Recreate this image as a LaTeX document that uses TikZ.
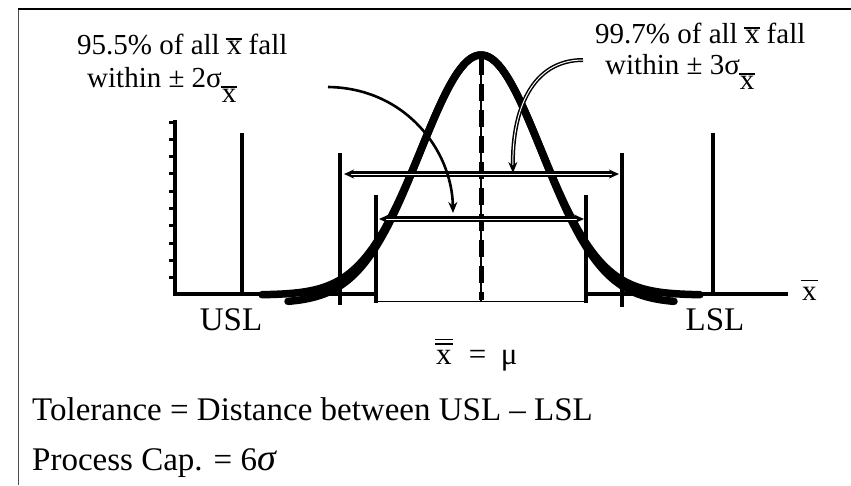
\documentclass[tikz,border=0pt]{standalone}
\usepackage{fontspec}
\setmainfont{Liberation Serif}
\usetikzlibrary{arrows.meta}

% x con barra (la altura de la barra es opcional)
\newcommand{\barx}[1][0.5em]{\leavevmode\rlap{\hspace{-0.03em}\rule[#1]{0.56em}{0.045em}}x}
\newcommand{\dbarx}{\leavevmode\rlap{\hspace{-0.03em}\rule[0.62em]{0.56em}{0.045em}}\rlap{\hspace{-0.03em}\rule[0.76em]{0.56em}{0.045em}}x}

\begin{document}
\begin{tikzpicture}[x=1pt, y=-1pt,
    etiqueta/.style={font=\fontsize{29}{32}\selectfont, inner sep=0pt, anchor=base west},
    limite/.style={font=\fontsize{33}{38}\selectfont, inner sep=0pt, anchor=base},
    texto/.style={font=\fontsize{33}{40}\selectfont, inner sep=0pt, anchor=base west},
    eje/.style={line width=3.8pt},
    sigma/.style={line width=3.5pt},
    campana/.style={line width=7.5pt, line cap=round},
    cota/.style={double, double distance=1pt, line width=2.1pt,
                 {Stealth[length=10pt,width=9pt]}-{Stealth[length=10pt,width=9pt]}},
    flecha/.style={line width=2.6pt, -{Stealth[length=11pt,width=9pt]}},
    flechadoble/.style={double, double distance=1pt, line width=1.5pt, -{Stealth[length=11pt,width=9pt]}}
  ]
  \useasboundingbox (0,0) rectangle (851,485);

  % marco
  \draw[line width=1pt, black!70] (18,485) -- (18,9);
  \draw[line width=1.2pt] (18,9) -- (851,9);

  % ejes
  \draw[eje] (175,120) -- (175,294) -- (376,294);
  \draw[eje] (586,294) -- (788,294);
  \draw[line width=1pt] (376,301) -- (586,301);
  \foreach \k in {0,...,9} {
    \draw[line width=3pt] (175,{122+17.3*\k}) -- ++(-6,0);
  }

  % limites de especificacion
  \draw[sigma] (242,133) -- (242,294);
  \draw[sigma] (713,133) -- (713,294);

  % lineas de 2 y 3 sigma
  \draw[sigma] (340,153) -- (340,305);
  \draw[sigma] (376,195) -- (376,303);
  \draw[sigma] (586,195) -- (586,303);
  \draw[sigma] (622,153) -- (622,307);

  % media
  \draw[line width=1.5pt] (481,55) -- (481,301);
  \draw[line width=5pt, dash pattern=on 17pt off 9pt] (481,58) -- (481,300);

  % campana
  \draw[campana] plot[domain=262:700, samples=120, smooth] (\x, {295-240*exp(-0.5*((\x-481)/60)^2)});
  \draw[campana] plot[domain=288:674, samples=120, smooth] (\x, {303-248*exp(-0.5*((\x-481)/61)^2)});

  % cotas
  \coordinate (a3l) at (344,174);
  \coordinate (a3r) at (619,174);
  \coordinate (a2l) at (379,219);
  \coordinate (a2r) at (584,219);
  \draw[cota] (a3l) -- (a3r);
  \draw[cota] (a2l) -- (a2r);

  % textos
  \node[etiqueta] (t95a) at (77,54) {95.5\% of all \barx{} fall};
  \node[etiqueta] (t95b) at (87,87) {within ± 2σ\raisebox{-15pt}{\barx}};
  \node[etiqueta] (t99a) at (595,43) {99.7\% of all \barx{} fall};
  \node[etiqueta] (t99b) at (605,74) {within ± 3σ\raisebox{-15pt}{\barx}};

  \coordinate (p95) at (328,87);
  \coordinate (q95) at (453,213);
  \draw[flecha] (p95) .. controls (405,88) and (452,150) .. (q95);
  \coordinate (p99) at (583,60);
  \coordinate (q99) at (513,173);
  \draw[flechadoble] (p99) .. controls (532,60) and (512,110) .. (q99);

  \node[limite] (usl) at (231,330) {USL};
  \node[limite] (lsl) at (715,330) {LSL};
  \node[etiqueta] (xeje) at (802,300) {\barx[0.66em]};
  \node[etiqueta, font=\fontsize{31}{34}\selectfont] (media) at (436,364) {\dbarx\hspace{0.55em}=\hspace{0.47em}μ};

  \node[texto] (tol) at (32,420) {Tolerance = Distance between USL – LSL};
  \node[texto] (cap) at (32,470) {Process Cap. = 6{\fontsize{38}{40}\selectfont\itshape σ}};
\end{tikzpicture}
\end{document}
